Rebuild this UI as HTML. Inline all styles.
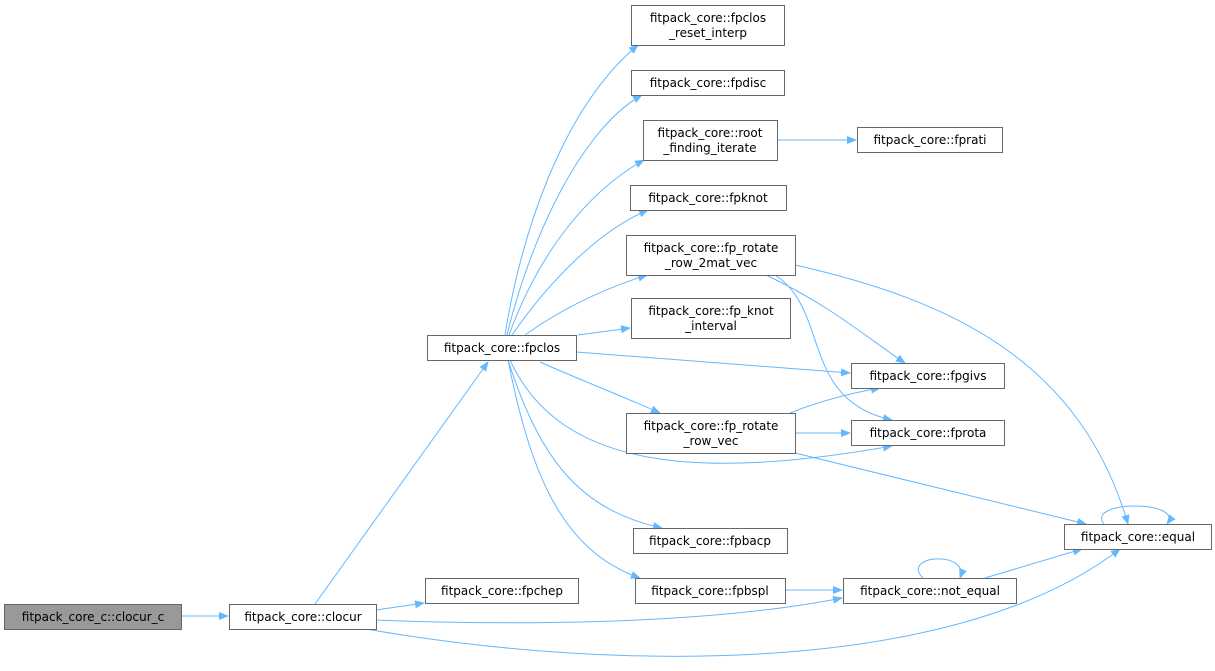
<!DOCTYPE html>
<html><head><meta charset="utf-8"><style>
body{margin:0;background:#fff;width:1215px;height:666px;overflow:hidden}
text{font-family:"DejaVu Sans","Liberation Sans",sans-serif;font-size:12px;fill:#000}
</style></head><body>
<svg width="1215" height="666" viewBox="0 0 1215 666" xmlns="http://www.w3.org/2000/svg">
<defs><marker id="a" markerWidth="10" markerHeight="8" refX="9" refY="4" orient="auto" markerUnits="userSpaceOnUse"><path d="M0,0 L10,4 L0,8 z" fill="#63b8ff"/></marker></defs>
<g fill="none" stroke="#63b8ff" stroke-width="1" marker-end="url(#a)">
<path d="M181,616 L228,616"/>
<path d="M315,604 L488,362"/>
<path d="M376,610 L424,603"/>
<path d="M376,620 C500,625 700,626 842,598"/>
<path d="M366,629 C600,670 950,680 1120,549"/>
<path d="M505,335 C520,240 560,110 638,45"/>
<path d="M507,335 C530,240 580,130 642,95"/>
<path d="M509,335 C540,250 590,190 644,160"/>
<path d="M512,335 C550,280 600,230 648,210"/>
<path d="M525,335 C560,310 600,290 647,275"/>
<path d="M578,335 L630,328"/>
<path d="M576,352 L850,373"/>
<path d="M540,362 C580,380 620,395 660,413"/>
<path d="M510,360 C560,470 700,480 892,446"/>
<path d="M508,360 C540,460 580,510 662,528"/>
<path d="M508,360 C530,470 560,550 640,578"/>
<path d="M777,140 L856,140"/>
<path d="M766,275 C830,305 870,340 905,363"/>
<path d="M775,275 C830,310 800,400 892,420"/>
<path d="M795,265 C950,300 1080,360 1128,524"/>
<path d="M790,413 C810,405 840,395 880,388"/>
<path d="M795,433 L850,433"/>
<path d="M795,453 L1086,524"/>
<path d="M785,590 L842,590"/>
<path d="M923,578 C900,555 970,550 960,578"/>
<path d="M985,578 L1082,549"/>
<path d="M1104,524 C1085,500 1185,500 1167,524"/>
</g>
<g stroke="#666" stroke-width="1">
<rect x="4.5" y="604.5" width="177" height="25" fill="#999"/>
<rect x="229.5" y="604.5" width="147" height="25" fill="#fff"/>
<rect x="425.5" y="578.5" width="153" height="25" fill="#fff"/>
<rect x="427.5" y="335.5" width="149" height="25" fill="#fff"/>
<rect x="631.5" y="5.5" width="153" height="40" fill="#fff"/>
<rect x="631.5" y="70.5" width="153" height="25" fill="#fff"/>
<rect x="643.5" y="120.5" width="134" height="40" fill="#fff"/>
<rect x="857.5" y="127.5" width="145" height="25" fill="#fff"/>
<rect x="630.5" y="185.5" width="156" height="25" fill="#fff"/>
<rect x="626.5" y="235.5" width="169" height="40" fill="#fff"/>
<rect x="631.5" y="298.5" width="159" height="40" fill="#fff"/>
<rect x="851.5" y="363.5" width="153" height="25" fill="#fff"/>
<rect x="626.5" y="413.5" width="169" height="40" fill="#fff"/>
<rect x="851.5" y="420.5" width="153" height="25" fill="#fff"/>
<rect x="633.5" y="528.5" width="154" height="25" fill="#fff"/>
<rect x="635.5" y="578.5" width="150" height="25" fill="#fff"/>
<rect x="843.5" y="578.5" width="173" height="25" fill="#fff"/>
<rect x="1064.5" y="524.5" width="147" height="25" fill="#fff"/>
</g>
<g text-anchor="middle">
<text x="93" y="621">fitpack_core_c::clocur_c</text>
<text x="303" y="621">fitpack_core::clocur</text>
<text x="502" y="595">fitpack_core::fpchep</text>
<text x="502" y="352">fitpack_core::fpclos</text>
<text x="708" y="22">fitpack_core::fpclos</text>
<text x="708" y="37">_reset_interp</text>
<text x="708" y="87">fitpack_core::fpdisc</text>
<text x="710" y="137">fitpack_core::root</text>
<text x="710" y="152">_finding_iterate</text>
<text x="930" y="144">fitpack_core::fprati</text>
<text x="708" y="202">fitpack_core::fpknot</text>
<text x="711" y="252">fitpack_core::fp_rotate</text>
<text x="711" y="267">_row_2mat_vec</text>
<text x="711" y="315">fitpack_core::fp_knot</text>
<text x="711" y="330">_interval</text>
<text x="928" y="380">fitpack_core::fpgivs</text>
<text x="711" y="430">fitpack_core::fp_rotate</text>
<text x="711" y="445">_row_vec</text>
<text x="928" y="437">fitpack_core::fprota</text>
<text x="710" y="545">fitpack_core::fpbacp</text>
<text x="710" y="595">fitpack_core::fpbspl</text>
<text x="930" y="595">fitpack_core::not_equal</text>
<text x="1138" y="541">fitpack_core::equal</text>
</g>
</svg>
</body></html>
